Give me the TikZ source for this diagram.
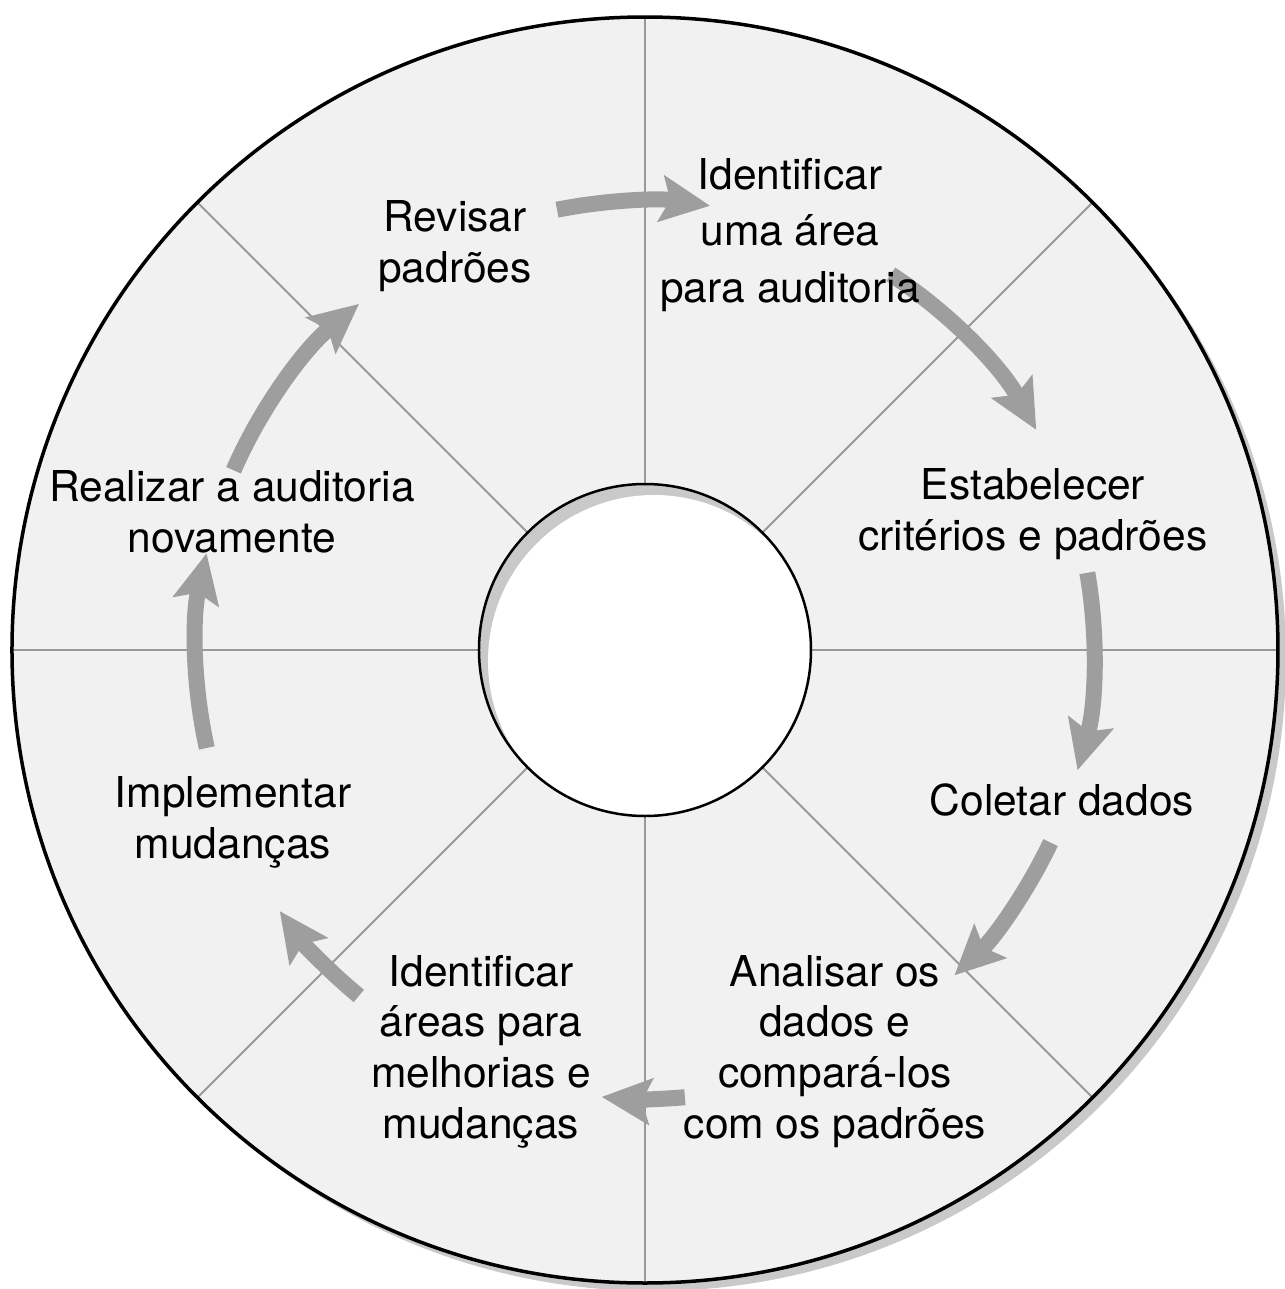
\documentclass[tikz,border=0pt]{standalone}
\usepackage{fontspec}
\setmainfont{TeX Gyre Heros}
\usetikzlibrary{arrows.meta}
\definecolor{discfill}{gray}{0.945}
\definecolor{shadowgray}{gray}{0.79}
\definecolor{arrowgray}{gray}{0.62}
\definecolor{spokegray}{gray}{0.6}
\tikzset{
  steplabel/.style={align=center,anchor=base,font=\fontsize{12.1}{14.4}\selectfont},
  cyclearrow/.style={arrowgray,line width=0.16cm,
    -{Stealth[length=0.5cm,width=0.48cm,inset=0.1cm,line width=0pt]}}
}
\begin{document}
\begin{tikzpicture}
\def\rout{6.33}
\def\rin{1.66}
\def\rarr{4.49}
\useasboundingbox (-6.45,-6.39) rectangle (6.40,6.50);
% outer disc with shadow
\fill[shadowgray] (0.08,-0.08) circle (\rout);
\fill[discfill] (0,0) circle (\rout);
\foreach \a in {0,45,...,315}{
	\draw[spokegray,line width=0.02cm] (\a:\rin) -- (\a:\rout);
}
\draw[line width=0.035cm] (0,0) circle (\rout);
% hole in the middle, shadow inside
\fill[shadowgray] (0,0) circle (\rin);
\begin{scope}
\clip (0,0) circle (\rin);
\fill[white] (0.09,-0.11) circle (\rin);
\end{scope}
\draw[line width=0.025cm] (0,0) circle (\rin);
% cycle arrows
\foreach \s/\e in {101.3/81.7,56.8/29.4,9.9/-15.5,-25.4/-46.4,
	-84.9/-95.5,-129.6/-144.4,-167.4/-192.4,-203.6/-230.4}{
	\draw[cyclearrow] (\s:\rarr) arc[start angle=\s,end angle=\e,radius=\rarr];
}
% steps (base = last line)
\node[steplabel] (rev) at (-1.90,3.68) {Revisar\\padrões};
\node[steplabel,font=\fontsize{12.1}{16}\selectfont] (ida) at (1.45,3.48) {Identificar\\uma área\\para auditoria};
\node[steplabel] (est) at (3.88,1.00) {Estabelecer\\critérios e padrões};
\node[steplabel] (col) at (4.17,-1.65) {Coletar dados};
\node[steplabel] (ana) at (1.90,-4.88) {Analisar os\\dados e\\compará-los\\com os padrões};
\node[steplabel] (ime) at (-1.64,-4.88) {Identificar\\áreas para\\melhorias e\\mudanças};
\node[steplabel] (imp) at (-4.12,-2.08) {Implementar\\mudanças};
\node[steplabel] (rea) at (-4.13,0.98) {Realizar a auditoria\\novamente};
\end{tikzpicture}
\end{document}
